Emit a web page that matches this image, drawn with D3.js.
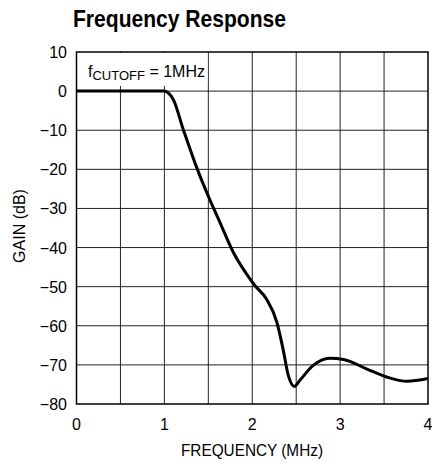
<!DOCTYPE html>
<html><head><meta charset="utf-8">
<script src="https://cdn.jsdelivr.net/npm/d3@7"></script>
<style>
body{margin:0;background:#fff;}
text{font-family:"Liberation Sans Narrow","Arial Narrow","Liberation Sans",sans-serif;fill:#000;}
</style></head><body>
<svg id="c" width="432" height="464"></svg>
<script>
const freqMHz = [0, 0.5, 1.0, 1.05, 1.10, 1.215, 1.367, 1.51, 1.633, 1.784, 1.936, 2.03, 2.16, 2.28, 2.35, 2.41, 2.48, 2.54, 2.69, 2.88, 3.04, 3.30, 3.53, 3.76, 4.0];
const gainDB  = [0, 0, 0, -0.6, -2.1, -9.8, -19.5, -27.4, -33.6, -41.2, -46.8, -49.7, -53.1, -59.1, -65.9, -72.7, -75.5, -74, -70.2, -68.3, -68.6, -71, -73.1, -74.2, -73.5];
const xTicks = [0, 1, 2, 3, 4];
const xGrid = [0.5, 1, 1.5, 2, 2.5, 3, 3.5];
const yTicks = [10, 0, -10, -20, -30, -40, -50, -60, -70, -80];

const svg = d3.select("#c");
const L = 76.5, R = 428, T = 52, B = 404;
const x = d3.scaleLinear().domain([0, 4]).range([L, R]);
const y = d3.scaleLinear().domain([-80, 10]).range([B, T]);

svg.append("text").attr("x", 73).attr("y", 27).attr("font-size", 24).attr("font-weight", "bold")
  .attr("textLength", 213).attr("lengthAdjust", "spacingAndGlyphs").text("Frequency Response");

// grid
const g = svg.append("g");
g.selectAll(".vx").data(xGrid).enter().append("line")
  .attr("x1", d => x(d)).attr("x2", d => x(d)).attr("y1", T).attr("y2", B)
  .attr("stroke", "#222").attr("stroke-width", 1);
g.selectAll(".hy").data(yTicks.filter(d => d > -80 && d < 10)).enter().append("line")
  .attr("x1", L).attr("x2", R).attr("y1", d => y(d)).attr("y2", d => y(d))
  .attr("stroke", "#222").attr("stroke-width", 1);

// annotation box
svg.append("rect").attr("x", L + 1).attr("y", T + 1).attr("width", 130).attr("height", 33).attr("fill", "#fff");
const ann = svg.append("text").attr("x", 88).attr("y", 77).attr("font-size", 16);
ann.append("tspan").text("f");
ann.append("tspan").attr("font-size", 13).attr("dy", 3).text("CUTOFF");
ann.append("tspan").attr("dy", -3).text(" = 1MHz");

// frame
svg.append("rect").attr("x", L).attr("y", T).attr("width", R - L).attr("height", B - T)
  .attr("fill", "none").attr("stroke", "#000").attr("stroke-width", 1.5);

// curve
const pts = freqMHz.map((f, i) => [f, gainDB[i]]);
svg.append("path").datum(pts)
  .attr("d", d3.line().x(d => x(d[0])).y(d => y(d[1])).curve(d3.curveMonotoneX))
  .attr("fill", "none").attr("stroke", "#000").attr("stroke-width", 3).attr("stroke-linejoin", "round");

// axis labels
svg.selectAll(".yt").data(yTicks).enter().append("text")
  .attr("x", 67).attr("y", d => y(d) + 6).attr("text-anchor", "end").attr("font-size", 16)
  .text(d => d < 0 ? "\u2212" + Math.abs(d) : d);
svg.selectAll(".xt").data(xTicks).enter().append("text")
  .attr("x", d => x(d)).attr("y", 430).attr("text-anchor", "middle").attr("font-size", 16)
  .text(d => d);
svg.append("text").attr("x", 252).attr("y", 456).attr("text-anchor", "middle").attr("font-size", 16)
  .attr("textLength", 142).attr("lengthAdjust", "spacingAndGlyphs").text("FREQUENCY (MHz)");
svg.append("text").attr("transform", "translate(25,226) rotate(-90)").attr("text-anchor", "middle").attr("font-size", 16).text("GAIN (dB)");
</script></body></html>
